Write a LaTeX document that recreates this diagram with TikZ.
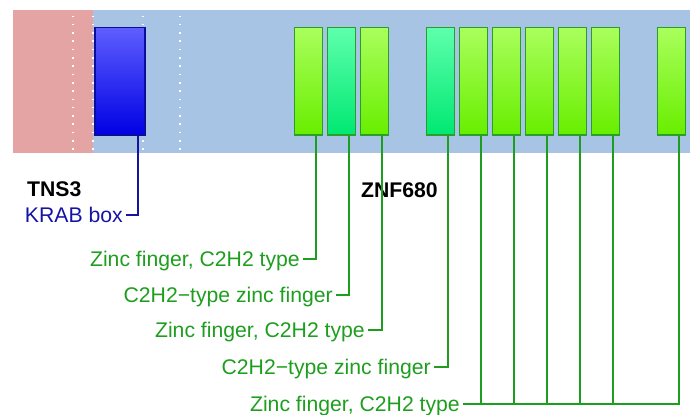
\documentclass[tikz,border=0pt]{standalone}
\usepackage{fontspec}
\setmainfont{Liberation Sans}
\definecolor{pinkbg}{HTML}{E4A4A4}
\definecolor{bluebg}{HTML}{A8C4E4}
\definecolor{krabtop}{HTML}{5E5EFF}
\definecolor{krabbot}{HTML}{0000E4}
\definecolor{krabline}{HTML}{0C0C9C}
\definecolor{zftop}{HTML}{AAFF5C}
\definecolor{zfbot}{HTML}{68EE00}
\definecolor{c2top}{HTML}{5EFFAC}
\definecolor{c2bot}{HTML}{00E872}
\definecolor{boxline}{HTML}{2A9E2A}
\definecolor{labgreen}{HTML}{1E9E1E}
\definecolor{labblue}{HTML}{1414A4}
\begin{document}
\begin{tikzpicture}[x=1bp,y=-1bp,
  lbl/.style={font=\fontsize{21.2bp}{24bp}\selectfont, inner xsep=3bp, inner ysep=0pt,
    text height=15.2bp, text depth=0pt, anchor=east},
  title/.style={font=\fontsize{21.2bp}{24bp}\selectfont\bfseries, inner sep=0pt,
    text height=15.2bp, text depth=0pt, anchor=west},
  dom/.style={minimum width=28bp, minimum height=107.5bp, inner sep=0pt, line width=1.4bp, draw=boxline},
  zf/.style={dom, top color=zftop, bottom color=zfbot},
  cz/.style={dom, top color=c2top, bottom color=c2bot},
  krab/.style={minimum width=50bp, minimum height=107.5bp, inner sep=0pt, line width=1.4bp,
    draw=krabline, top color=krabtop, bottom color=krabbot},
  gline/.style={draw=labgreen, line width=1.7bp},
  bline/.style={draw=labblue, line width=1.7bp},
  dots/.style={draw=white, line width=1.6bp, dash pattern=on 1.6bp off 6.7bp}]
\useasboundingbox (0,0) rectangle (690,414);
% backgrounds
\fill[pinkbg] (13,10) rectangle (93,153);
\fill[bluebg] (93,10) rectangle (690,153);
\foreach \xx in {73,93,143,180}
  \draw[dots] (\xx,15.5) -- (\xx,152);
% domains
\node[krab] (k1) at (120,81.25) {};
\node[zf] (b1) at (308.5,81.25) {};
\node[cz] (b2) at (341.5,81.25) {};
\node[zf] (b3) at (374.5,81.25) {};
\node[cz] (b4) at (440.5,81.25) {};
\node[zf] (b5) at (473.5,81.25) {};
\node[zf] (b6) at (506.5,81.25) {};
\node[zf] (b7) at (539.5,81.25) {};
\node[zf] (b8) at (572.5,81.25) {};
\node[zf] (b9) at (605.5,81.25) {};
\node[zf] (b10) at (671.5,81.25) {};
% titles
\node[title] (t1) at (27,189) {TNS3};
\node[title] (t2) at (361,189.5) {ZNF680};
% labels
\node[lbl, text=labblue] (l0) at (126,215) {KRAB box};
\node[lbl, text=labgreen] (l1) at (303,259) {Zinc finger, C2H2 type};
\node[lbl, text=labgreen] (l2) at (336,295) {C2H2\textminus type zinc finger};
\node[lbl, text=labgreen] (l3) at (368,330) {Zinc finger, C2H2 type};
\node[lbl, text=labgreen] (l4) at (434,367) {C2H2\textminus type zinc finger};
\node[lbl, text=labgreen] (l5) at (463,404) {Zinc finger, C2H2 type};
% connectors
\draw[bline] ([xshift=-8bp]k1.south east) |- (l0.east);
\draw[gline] ([xshift=-7.5bp]b1.south east) |- (l1.east);
\draw[gline] ([xshift=-7.5bp]b2.south east) |- (l2.east);
\draw[gline] ([xshift=-7.5bp]b3.south east) |- (l3.east);
\draw[gline] ([xshift=-7.5bp]b4.south east) |- (l4.east);
\foreach \b in {b5,b6,b7,b8,b9,b10}
  \draw[gline] ([xshift=-7.5bp]\b.south east) |- (l5.east);
\end{tikzpicture}
\end{document}
